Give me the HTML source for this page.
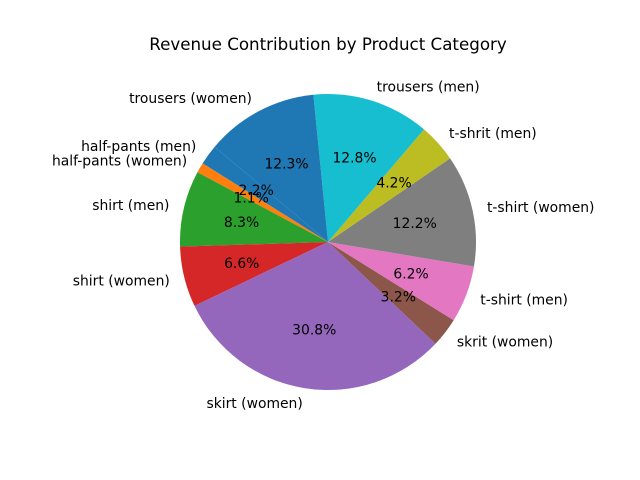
<!DOCTYPE html>
<html><head><meta charset="utf-8"><style>
body{margin:0;background:#fff}
svg{display:block}
text{font-family:"DejaVu Sans","Liberation Sans",sans-serif}
</style></head><body>
<svg id="chart" width="640" height="480">
<rect width="640" height="480" fill="#fff"></rect>
<text x="328" y="50" font-size="16.7" text-anchor="middle" fill="#000">Revenue Contribution by Product Category</text>
<g id="slices"></g>
</svg>
<script>
const categories = ["half-pants (men)","half-pants (women)","shirt (men)","shirt (women)","skirt (women)","skrit (women)","t-shirt (men)","t-shirt (women)","t-shrit (men)","trousers (men)","trousers (women)"];
const values = [2.2,1.1,8.3,6.6,30.8,3.2,6.2,12.2,4.2,12.8,12.3];
const colors = ["#1f77b4","#ff7f0e","#2ca02c","#d62728","#9467bd","#8c564b","#e377c2","#7f7f7f","#bcbd22","#17becf","#1f77b4"];
const cx=328, cy=242, r=148, startAngle=140;
const ns="http://www.w3.org/2000/svg";
const g=document.getElementById('slices');
const total=values.reduce((a,b)=>a+b,0);
let a0=startAngle;
function pt(angDeg,rad){const t=angDeg*Math.PI/180;return [cx+rad*Math.cos(t), cy-rad*Math.sin(t)];}
const labelLayer=[];
values.forEach((v,i)=>{
  const sweep=v/total*360, a1=a0+sweep;
  const p0=pt(a0,r), p1=pt(a1,r);
  const path=document.createElementNS(ns,'path');
  path.setAttribute('d',`M${cx},${cy} L${p0[0]},${p0[1]} A${r},${r} 0 ${sweep>180?1:0} 0 ${p1[0]},${p1[1]} Z`);
  path.setAttribute('fill',colors[i]);
  
  
  g.appendChild(path);
  const mid=(a0+a1)/2;
  const lp=pt(mid,r*1.1);
  const lt=document.createElementNS(ns,'text');
  lt.setAttribute('x',lp[0]); lt.setAttribute('y',lp[1]+5);
  lt.setAttribute('font-size','13.9');
  lt.setAttribute('text-anchor',lp[0]<cx?'end':'start');
  lt.textContent=categories[i];
  
  
  labelLayer.push(lt);
  const pp=pt(mid,r*0.6);
  const pt2=document.createElementNS(ns,'text');
  pt2.setAttribute('x',pp[0]); pt2.setAttribute('y',pp[1]+5);
  pt2.setAttribute('font-size','13.9');
  pt2.setAttribute('text-anchor','middle');
  pt2.textContent=(v/total*100).toFixed(1)+'%';
  
  
  labelLayer.push(pt2);
  a0=a1;
});
labelLayer.forEach(t=>g.appendChild(t));
</script>
</body></html>
